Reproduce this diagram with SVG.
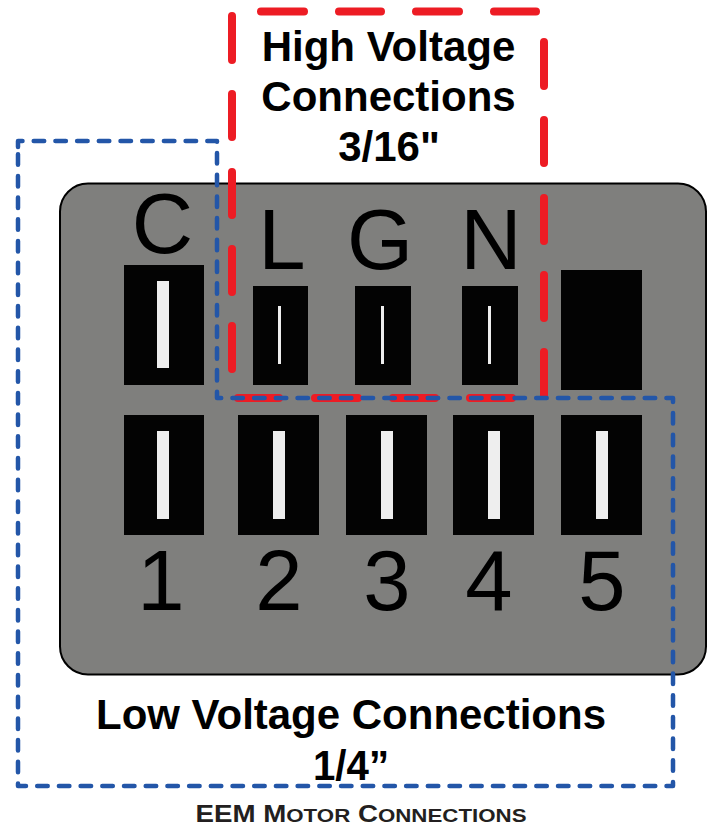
<svg xmlns="http://www.w3.org/2000/svg" width="710" height="827" viewBox="0 0 710 827">
<style>
text{font-family:"Liberation Sans",Arial,sans-serif;text-anchor:middle;fill:#000}
.pin{font-size:85px}
.title{font-size:42px;font-weight:bold}
.pb{fill:#030303}
.pw{fill:#eeeeee}
.red{fill:none;stroke:#ed1c24;stroke-width:8;stroke-linecap:round}
.blue{fill:none;stroke:#2356a8;stroke-width:4.500;stroke-linecap:round;stroke-linejoin:round;stroke-dasharray:10.500 11.200}
</style>
<rect width="710" height="827" fill="#ffffff"/>
<g id="panel"><rect x="60" y="183.500" width="646" height="491" rx="28" fill="#7f7f7d" stroke="#000" stroke-width="2"/></g>
<g id="pin-C"><rect class="pb" x="124" y="265" width="80" height="120"/><rect class="pw" x="157" y="281" width="12" height="87"/><text class="pin" x="162.500" y="252.500">C</text></g>
<g id="pin-L"><rect class="pb" x="253" y="286" width="55" height="99"/><rect class="pw" x="278" y="306" width="3" height="58"/><text class="pin" x="282" y="269">L</text></g>
<g id="pin-G"><rect class="pb" x="355" y="286" width="56" height="99"/><rect class="pw" x="381" y="306" width="3" height="58"/><text class="pin" x="380" y="268.500">G</text></g>
<g id="pin-N"><rect class="pb" x="462" y="286" width="56" height="99"/><rect class="pw" x="488" y="306" width="3" height="58"/><text class="pin" x="491" y="268.500">N</text></g>
<g id="pin-blank"><rect class="pb" x="561" y="270" width="81" height="120"/></g>
<g id="pin-1"><rect class="pb" x="124" y="415" width="80" height="120"/><rect class="pw" x="157" y="431" width="12" height="88"/><text class="pin" x="161" y="610">1</text></g>
<g id="pin-2"><rect class="pb" x="238" y="415" width="81" height="120"/><rect class="pw" x="273" y="431" width="12" height="88"/><text class="pin" x="279" y="610">2</text></g>
<g id="pin-3"><rect class="pb" x="346" y="415" width="81" height="120"/><rect class="pw" x="381" y="431" width="12" height="88"/><text class="pin" x="387" y="610">3</text></g>
<g id="pin-4"><rect class="pb" x="453" y="415" width="81" height="120"/><rect class="pw" x="488" y="431" width="12" height="88"/><text class="pin" x="489" y="610">4</text></g>
<g id="pin-5"><rect class="pb" x="561" y="415" width="81" height="120"/><rect class="pw" x="596" y="431" width="12" height="88"/><text class="pin" x="602" y="610">5</text></g>
<g id="connectors">
<path class="red" d="M261 11.500H304M339 11.500H381M416 11.500H459M494 11.500H536M232 16V60M232 94V137M232 172V215M232 249V292M232 326V369M544 42V86M544 120V163M544 198V241M544 275V318M544 352V396M238 398H279M315 398H358M393 398H435M470 398H512"/>
<path class="blue" d="M18 147V141H217V398H673V786H18V147"/>
</g>
<g id="labels">
<text class="title" x="388.500" y="60.500">High Voltage</text>
<text class="title" x="388.500" y="110.500">Connections</text>
<text class="title" x="389" y="161">3/16"</text>
<text class="title" x="351" y="729" textLength="510" lengthAdjust="spacingAndGlyphs">Low Voltage Connections</text>
<text class="title" x="351" y="780" textLength="76" lengthAdjust="spacingAndGlyphs">1/4”</text>
<text x="361" y="822" font-weight="bold" style="fill:#231f20" font-size="23" textLength="331" lengthAdjust="spacingAndGlyphs">EEM M<tspan font-size="18.500">OTOR</tspan> C<tspan font-size="18.500">ONNECTIONS</tspan></text>
</g>
</svg>
